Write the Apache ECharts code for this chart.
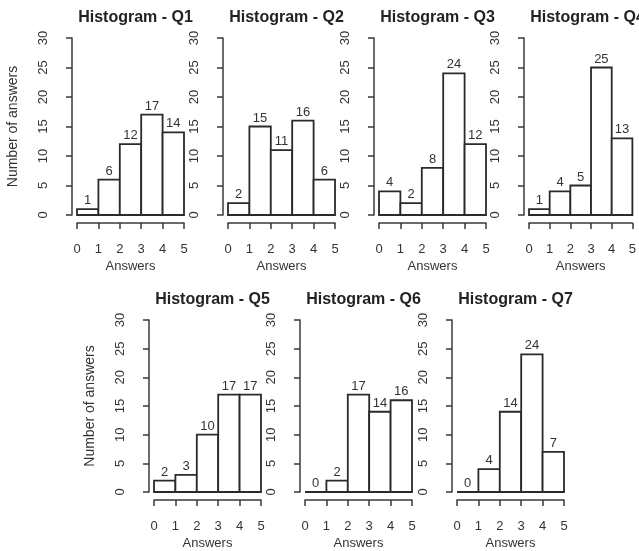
<!DOCTYPE html>
<html>
<head>
<meta charset="utf-8">
<script src="https://cdn.jsdelivr.net/npm/echarts@6/dist/echarts.min.js"></script>
<style>
html,body{margin:0;padding:0;background:#fff;}
#main{width:639px;height:551px;}
</style>
</head>
<body>
<div id="main"></div>
<script>
// ---- data ----
const binStarts = [0, 1, 2, 3, 4];
const binEnds = [1, 2, 3, 4, 5];
const xTicks = [0, 1, 2, 3, 4, 5];
const yTicks = [0, 5, 10, 15, 20, 25, 30];
const titles = ['Histogram - Q1', 'Histogram - Q2', 'Histogram - Q3', 'Histogram - Q4',
                'Histogram - Q5', 'Histogram - Q6', 'Histogram - Q7'];
const q1 = [1, 6, 12, 17, 14];
const q2 = [2, 15, 11, 16, 6];
const q3 = [4, 2, 8, 24, 12];
const q4 = [1, 4, 5, 25, 13];
const q5 = [2, 3, 10, 17, 17];
const q6 = [0, 2, 17, 14, 16];
const q7 = [0, 4, 14, 24, 7];
const xName = 'Answers';
const yName = 'Number of answers';

// ---- layout ----
const series = [q1, q2, q3, q4, q5, q6, q7];
const layout = [
  {left: 77, top: 38, h: 177, yName: true},
  {left: 228, top: 38, h: 177},
  {left: 379, top: 38, h: 177},
  {left: 529, top: 38, h: 177},
  {left: 154, top: 320, h: 176, yName: true},
  {left: 305, top: 320, h: 176},
  {left: 457, top: 320, h: 176}
];
const W = 107;
const axisColor = '#3a3a3a';
const textColor = '#333';
const font = 'Liberation Sans, Arial, sans-serif';

const grids = [], xAxes = [], yAxes = [], ser = [], ttl = [];
layout.forEach((L, i) => {
  grids.push({left: L.left, top: L.top, width: W, height: L.h});
  xAxes.push({
    type: 'value', gridIndex: i, min: xTicks[0], max: xTicks[xTicks.length - 1], interval: 1,
    offset: 8,
    name: xName, nameLocation: 'middle', nameGap: 37,
    nameTextStyle: {color: textColor, fontSize: 13, fontFamily: font},
    axisLine: {show: true, onZero: false, lineStyle: {color: axisColor, width: 1.5}},
    axisTick: {show: true, length: 6, lineStyle: {color: axisColor, width: 1.5}},
    axisLabel: {color: textColor, fontSize: 13, fontFamily: font, margin: 20},
    splitLine: {show: false}
  });
  yAxes.push({
    type: 'value', gridIndex: i, min: yTicks[0], max: yTicks[yTicks.length - 1], interval: 5,
    offset: 5,
    name: L.yName ? yName : '', nameLocation: 'middle', nameGap: 52,
    nameTextStyle: {color: textColor, fontSize: 14, fontFamily: font},
    axisLine: {show: true, onZero: false, lineStyle: {color: axisColor, width: 1.5}},
    axisTick: {show: true, length: 6, lineStyle: {color: axisColor, width: 1.5}},
    axisLabel: {color: textColor, fontSize: 13, fontFamily: font, rotate: 90, margin: 22},
    splitLine: {show: false}
  });
  const vals = series[i];
  ser.push({
    type: 'custom', xAxisIndex: i, yAxisIndex: i,
    data: vals.map((v, k) => [binStarts[k], binEnds[k], v]),
    renderItem: function (params, api) {
      const s = api.value(0), e = api.value(1), v = api.value(2);
      const p0 = api.coord([s, v]);
      const p1 = api.coord([e, 0]);
      return {
        type: 'group',
        children: [
          {type: 'rect', shape: {x: p0[0], y: p0[1], width: p1[0] - p0[0], height: p1[1] - p0[1]},
           style: {fill: '#fff', stroke: '#2a2a2a', lineWidth: 1.8}},
          {type: 'text', style: {text: String(v), x: (p0[0] + p1[0]) / 2, y: p0[1] - 2,
            align: 'center', verticalAlign: 'bottom', fill: textColor, fontSize: 13, fontFamily: font}}
        ]
      };
    }
  });
  ttl.push({
    text: titles[i], left: L.left + W / 2, top: L.top - 33, textAlign: 'center',
    textStyle: {color: '#222', fontSize: 16, fontWeight: 'bold', fontFamily: font}
  });
});

const chart = echarts.init(document.getElementById('main'), null, {renderer: 'canvas'});
chart.setOption({
  animation: false,
  title: ttl,
  grid: grids,
  xAxis: xAxes,
  yAxis: yAxes,
  series: ser
});
</script>
</body>
</html>
